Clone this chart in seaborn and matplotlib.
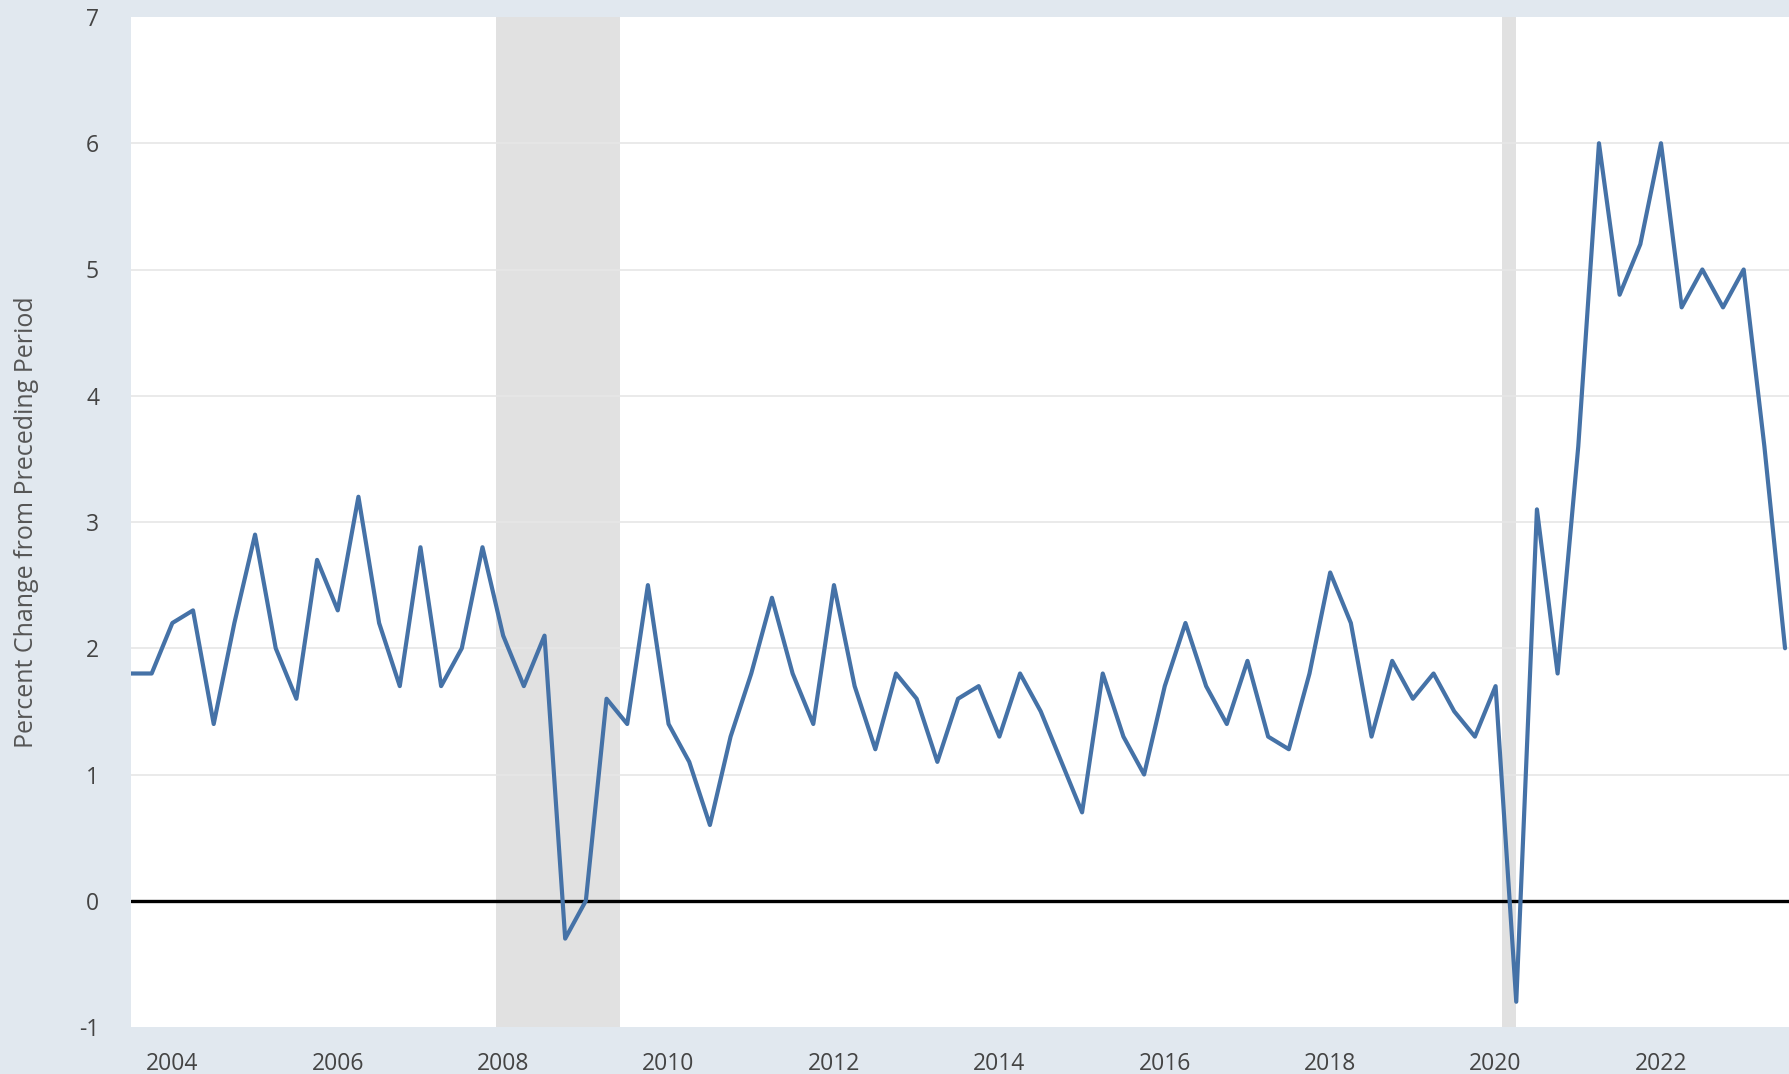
import pandas as pd
import numpy as np
import seaborn as sns
import matplotlib.pyplot as plt

# Trimestres 2003Q3 - 2023Q3
trimestres = pd.period_range("2003Q3", "2023Q3", freq="Q")
valores = [1.8, 1.8, 2.2, 2.3, 1.4, 2.2, 2.9, 2.0, 1.6, 2.7,
           2.3, 3.2, 2.2, 1.7, 2.8, 1.7, 2.0, 2.8, 2.1, 1.7,
           2.1, -0.3, 0.0, 1.6, 1.4, 2.5, 1.4, 1.1, 0.6, 1.3,
           1.8, 2.4, 1.8, 1.4, 2.5, 1.7, 1.2, 1.8, 1.6, 1.1,
           1.6, 1.7, 1.3, 1.8, 1.5, 1.1, 0.7, 1.8, 1.3, 1.0,
           1.7, 2.2, 1.7, 1.4, 1.9, 1.3, 1.2, 1.8, 2.6, 2.2,
           1.3, 1.9, 1.6, 1.8, 1.5, 1.3, 1.7, -0.8, 3.1, 1.8,
           3.6, 6.0, 4.8, 5.2, 6.0, 4.7, 5.0, 4.7, 5.0, 3.6,
           2.0]
recesiones = [(2007 + 11/12, 2009 + 5/12), (2020 + 1/12, 2020 + 3/12)]
anios_ticks = list(range(2004, 2023, 2))
y_ticks = list(range(-1, 8))

df = pd.DataFrame({
    "fecha": [p.year + (p.quarter - 1) / 4 for p in trimestres],
    "valor": valores,
})

sns.set_style("white")
plt.rcParams["font.family"] = ["Open Sans", "DejaVu Sans"]

fig = plt.figure(figsize=(17.9, 10.74), dpi=100, facecolor="#e1e8ef")
ax = fig.add_axes([131 / 1790, 1 - 1027 / 1074, 1 - 131 / 1790, (1027 - 17) / 1074])
ax.set_facecolor("white")

#Sombreado de recesiones
for ini, fin in recesiones:
    ax.axvspan(ini, fin, color="#e1e1e1", lw=0, zorder=1)

for y in y_ticks:
    if y not in (0, -1, 7):
        ax.axhline(y, color="#e6e6e6", lw=1.2, zorder=1.5)
ax.axhline(0, color="black", lw=2.4, zorder=2)

sns.lineplot(data=df, x="fecha", y="valor", color="#4572a7", lw=3.0, ax=ax, zorder=3)

ax.set_xlim(2003.5, 2023.56)
ax.set_ylim(-1, 7)
ax.set_xticks(anios_ticks)
ax.set_xticklabels([str(a) for a in anios_ticks])
ax.set_yticks(y_ticks)
ax.set_yticklabels([str(y) for y in y_ticks])
ax.tick_params(axis="x", colors="#444444", labelsize=16.5, length=6, width=1, color="#cccccc", pad=12)
ax.tick_params(axis="y", colors="#444444", labelsize=16.5, length=0, pad=23)
ax.set_xlabel("")
ax.set_ylabel("Percent Change from Preceding Period", fontsize=18, color="#555555", labelpad=29)
for s in ax.spines.values():
    s.set_visible(False)

fig.savefig("out.png", dpi=100, facecolor=fig.get_facecolor())
